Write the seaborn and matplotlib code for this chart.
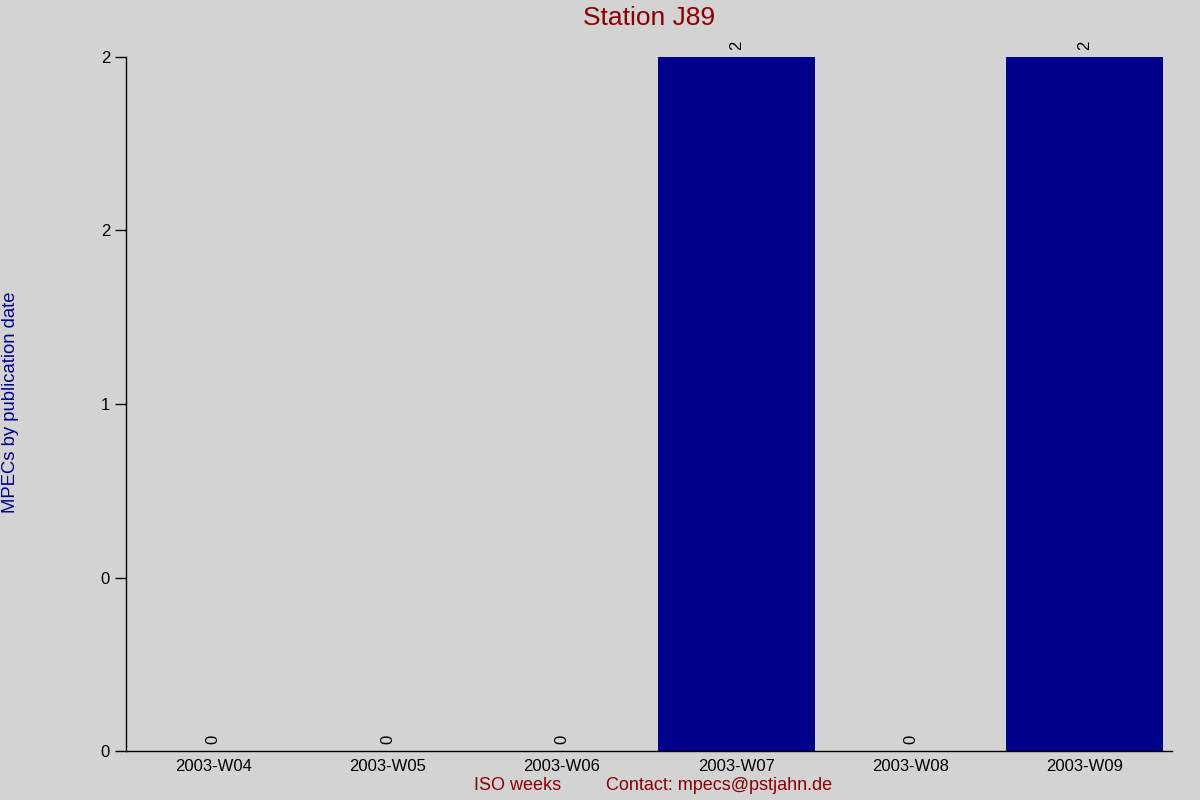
import matplotlib
matplotlib.use("Agg")
import matplotlib.pyplot as plt
from matplotlib.ticker import FormatStrFormatter
import seaborn as sns

# Data
weeks = ["2003-W04", "2003-W05", "2003-W06", "2003-W07", "2003-W08", "2003-W09"]
counts = [0, 0, 0, 2, 0, 2]
y_ticks = [0, 0.5, 1, 1.5, 2]

BG = "#d3d3d3"
BAR = "#00008b"
RED = "#8b0000"

sns.set_style("white")
plt.rcParams["font.family"] = ["Liberation Sans", "DejaVu Sans"]

fig = plt.figure(figsize=(12, 8), dpi=100, facecolor=BG)
ax = fig.add_axes([0.105, 0.06125, 0.8717, 0.8675], facecolor=BG)

sns.barplot(x=weeks, y=counts, color=BAR, width=0.9, saturation=1,
            linewidth=0, ax=ax)
for cont in ax.containers:
    ax.bar_label(cont, fmt="%d", rotation=90, padding=5, fontsize=12, color="black")

ax.set_xlim(-0.5, 5.5)
ax.set_ylim(0, 2)
ax.set_yticks(y_ticks)
ax.yaxis.set_major_formatter(FormatStrFormatter("%.0f"))
ax.tick_params(axis="y", length=8, width=1, color="black", labelsize=12,
               labelcolor="black", direction="out", left=True)
ax.tick_params(axis="x", length=0, labelsize=12, labelcolor="black", pad=6)
ax.set_xlabel("")
ax.set_ylabel("")

for side in ["top", "right"]:
    ax.spines[side].set_visible(False)
for side in ["left", "bottom"]:
    ax.spines[side].set_color("black")
    ax.spines[side].set_linewidth(1)

fig.text(0.541, 0.978, "Station J89", color=RED, fontsize=19, ha="center", va="center")
fig.text(0.0085, 0.4975, "MPECs by publication date", color=BAR, fontsize=13.3,
         rotation=90, ha="center", va="center")
fig.text(0.431, 0.018, "ISO weeks", color=RED, fontsize=13, ha="center", va="center")
fig.text(0.599, 0.018, "Contact: mpecs@pstjahn.de", color=RED, fontsize=13, ha="center", va="center")

fig.savefig("out.png", dpi=100, facecolor=BG)
